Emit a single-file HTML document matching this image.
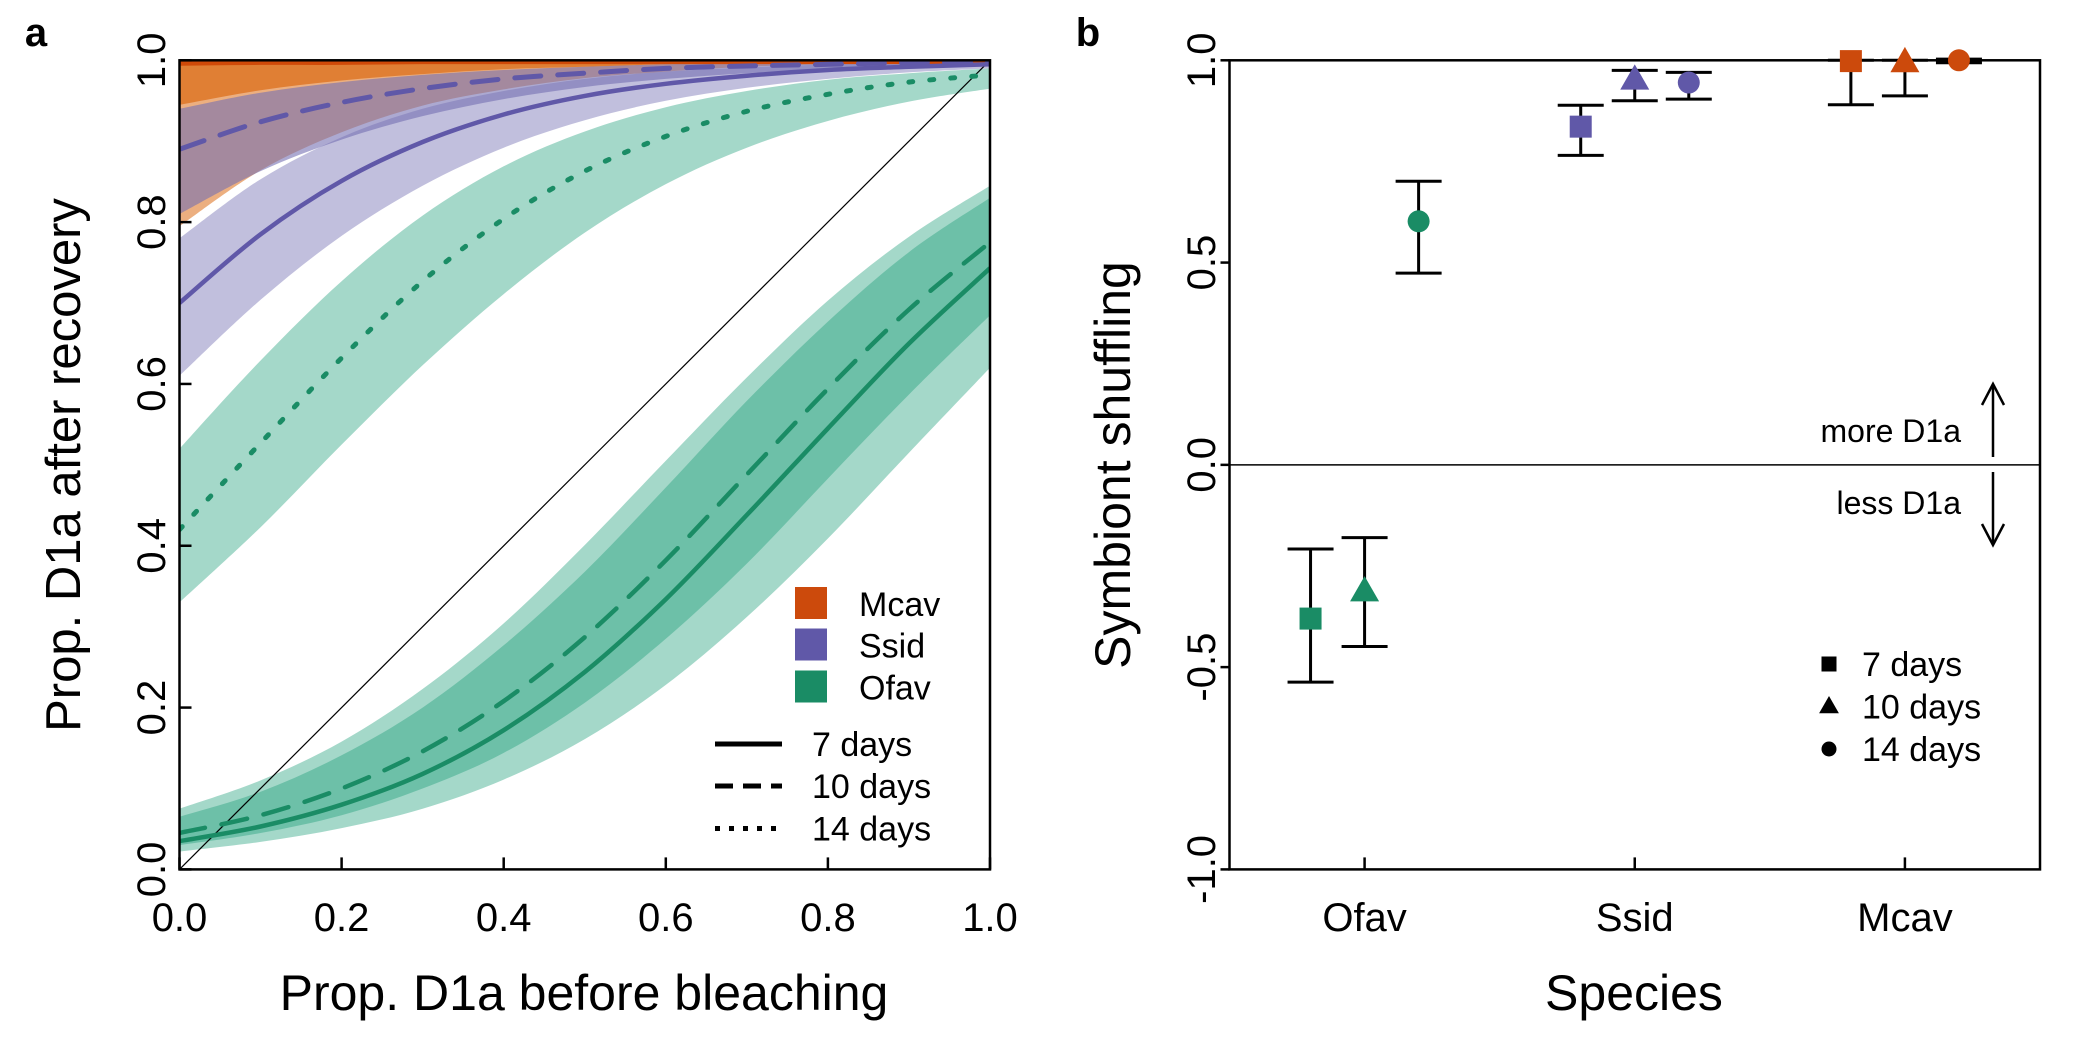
<!DOCTYPE html>
<html><head><meta charset="utf-8"><style>
html,body{margin:0;padding:0;background:#fff;}
svg{display:block;font-family:"Liberation Sans",Arial,sans-serif;}
</style></head><body>
<svg id="fig" width="2100" height="1050" viewBox="0 0 2100 1050" xmlns="http://www.w3.org/2000/svg">
<g id="pa"></g>
<g id="pb"></g>
</svg>
<script>
// ---------- Panel a data ----------
const xGrid = [0,0.1,0.2,0.3,0.4,0.5,0.6,0.7,0.8,0.9,1.0];
const ofav7 = [0.035,0.053,0.080,0.118,0.172,0.244,0.334,0.438,0.545,0.650,0.743];
const ofav7Lo = [0.022,0.034,0.051,0.075,0.111,0.161,0.228,0.312,0.409,0.515,0.620];
const ofav7Hi = [0.065,0.096,0.141,0.200,0.277,0.368,0.472,0.579,0.677,0.763,0.830];
const ofav10 = [0.045,0.067,0.100,0.146,0.208,0.287,0.382,0.488,0.594,0.692,0.775];
const ofav10Lo = [0.030,0.045,0.067,0.100,0.144,0.206,0.285,0.378,0.483,0.587,0.685];
const ofav10Hi = [0.075,0.110,0.158,0.223,0.304,0.401,0.505,0.608,0.703,0.782,0.845];
const ofav14 = [0.420,0.527,0.632,0.727,0.804,0.863,0.906,0.937,0.958,0.973,0.982];
const ofav14Lo = [0.330,0.423,0.525,0.623,0.711,0.787,0.847,0.892,0.925,0.949,0.965];
const ofav14Hi = [0.520,0.629,0.727,0.808,0.869,0.912,0.942,0.962,0.976,0.984,0.990];
const ssid7 = [0.700,0.785,0.851,0.899,0.933,0.956,0.971,0.981,0.988,0.992,0.995];
const ssid7Lo = [0.610,0.704,0.783,0.845,0.892,0.926,0.950,0.966,0.977,0.985,0.990];
const ssid7Hi = [0.780,0.853,0.905,0.940,0.962,0.977,0.986,0.991,0.995,0.997,0.998];
const ssid10 = [0.890,0.924,0.948,0.965,0.977,0.984,0.990,0.993,0.995,0.997,0.998];
const ssid10Lo = [0.810,0.863,0.902,0.931,0.952,0.967,0.977,0.984,0.989,0.993,0.995];
const ssid10Hi = [0.940,0.960,0.973,0.982,0.988,0.992,0.995,0.997,0.998,0.998,0.999];
const mcav7 = [0.997,0.998,0.998,0.999,0.999,0.999,0.999,0.999,0.999,0.999,0.999];
const mcav7Lo = [0.795,0.864,0.911,0.944,0.964,0.978,0.986,0.992,0.995,0.997,0.998];
const mcav10Lo = [0.945,0.963,0.975,0.983,0.989,0.992,0.995,0.997,0.998,0.998,0.999];
const mcavHi = [1,1,1,1,1,1,1,1,1,1,1];
const mcav10 = [1,1,1,1,1,1,1,1,1,1,1];
const aTicks = [0,0.2,0.4,0.6,0.8,1.0];
const aTickLabels = ["0.0","0.2","0.4","0.6","0.8","1.0"];

// ---------- Panel b data ----------
const species = ["Ofav","Ssid","Mcav"];
const days = ["7 days","10 days","14 days"];
const shufOfav = [-0.38,-0.313,0.602];
const shufOfavLo = [-0.537,-0.449,0.474];
const shufOfavHi = [-0.208,-0.180,0.701];
const shufSsid = [0.836,0.952,0.945];
const shufSsidLo = [0.765,0.900,0.904];
const shufSsidHi = [0.889,0.975,0.970];
const shufMcav = [0.998,0.995,1.0];
const shufMcavLo = [0.890,0.912,0.994];
const shufMcavHi = [1.0,1.0,1.003];
const bTicks = [-1,-0.5,0,0.5,1];
const bTickLabels = ["-1.0","-0.5","0.0","0.5","1.0"];

const NS="http://www.w3.org/2000/svg";
function mk(tag,attrs,parent){const e=document.createElementNS(NS,tag);for(const k in attrs)e.setAttribute(k,attrs[k]);parent.appendChild(e);return e;}
const COL={mcav:"#D04A08",ssid:"#6058A8",ofav:"#1A8C65"};
const BAND={mcav:"#D95F02",ssid:"#7570B3",ofav:"#1B9E77"};

const AL=179.5,AR=990,AT=60.3,AB=869.4;
const ax=v=>AL+v*(AR-AL), ay=v=>AB-v*(AB-AT);
function smooth(pts){
  let d="M"+pts[0][0].toFixed(1)+","+pts[0][1].toFixed(1);
  for(let i=0;i<pts.length-1;i++){
    const p0=pts[Math.max(i-1,0)],p1=pts[i],p2=pts[i+1],p3=pts[Math.min(i+2,pts.length-1)];
    const c1=[p1[0]+(p2[0]-p0[0])/6,p1[1]+(p2[1]-p0[1])/6];
    const c2=[p2[0]-(p3[0]-p1[0])/6,p2[1]-(p3[1]-p1[1])/6];
    d+=" C"+c1[0].toFixed(1)+","+c1[1].toFixed(1)+" "+c2[0].toFixed(1)+","+c2[1].toFixed(1)+" "+p2[0].toFixed(1)+","+p2[1].toFixed(1);
  }
  return d;
}
function pts(arr){return xGrid.map((x,i)=>[ax(x),ay(arr[i])]);}
const pa=document.getElementById('pa');
const clip=mk('clipPath',{id:'clipA'},mk('defs',{},pa));
mk('rect',{x:AL,y:AT,width:AR-AL,height:AB-AT},clip);
const plotA=mk('g',{'clip-path':'url(#clipA)'},pa);
function band(lo,hi,col,op,name){
  const up=smooth(pts(hi));
  const lw=smooth(pts(lo).reverse()).replace(/^M/,"L");
  const p=mk('path',{d:up+" "+lw+" Z",fill:col,'fill-opacity':op},plotA);
  
  
}
function line(arr,col,w,dash,name){
  const p=mk('path',{d:smooth(pts(arr)),fill:'none',stroke:col,'stroke-width':w,'stroke-dasharray':dash||'none','stroke-linecap':dash?'round':'butt'},plotA);
  
  
}
band(mcav7Lo,mcavHi,BAND.mcav,0.5,'mcav-7d-band');
band(mcav10Lo,mcavHi,BAND.mcav,0.6,'mcav-10d-band');
band(ssid7Lo,ssid7Hi,BAND.ssid,0.45,'ssid-7d-band');
band(ssid10Lo,ssid10Hi,BAND.ssid,0.6,'ssid-10d-band');
band(ofav14Lo,ofav14Hi,BAND.ofav,0.4,'ofav-14d-band');
band(ofav7Lo,ofav7Hi,BAND.ofav,0.4,'ofav-7d-band');
band(ofav10Lo,ofav10Hi,BAND.ofav,0.4,'ofav-10d-band');
const diag=mk('line',{x1:ax(0),y1:ay(0),x2:ax(1),y2:ay(1),stroke:'#000','stroke-width':1.2},plotA);


line(mcav10,'#222',3,'14 10','mcav-14d-line');
line(mcav7,COL.mcav,6,null,'mcav-7d-line');
line(ssid7,COL.ssid,4.5,null,'ssid-7d-line');
line(ssid10,COL.ssid,5,'26 17','ssid-10d-line');
line(ofav7,COL.ofav,4.5,null,'ofav-7d-line');
line(ofav10,COL.ofav,4.5,'26 17','ofav-10d-line');
line(ofav14,COL.ofav,5,'4 17','ofav-14d-line');

function frame(g,l,t,r,b,name){const f=mk('rect',{x:l,y:t,width:r-l,height:b-t,fill:'none',stroke:'#000','stroke-width':2.5},g);}
frame(pa,AL,AT,AR,AB,'panel-a-frame');
function txt(g,x,y,s,size,anchor,rot,name,weight){
  const t=mk('text',{x:x,y:y,'font-size':size,'text-anchor':anchor||'middle',fill:'#000'},g);
  if(rot)t.setAttribute('transform','rotate('+rot+' '+x+' '+y+')');
  if(weight)t.setAttribute('font-weight',weight);
  t.textContent=s;
  
  
  return t;
}
aTicks.forEach((v,i)=>{
  mk('line',{x1:ax(v),x2:ax(v),y1:AB,y2:AB-12,stroke:'#000','stroke-width':2.5},pa);
  mk('line',{x1:AL,x2:AL+12,y1:ay(v),y2:ay(v),stroke:'#000','stroke-width':2.5},pa);
  txt(pa,ax(v),931,aTickLabels[i],40,'middle',0,'x-tick-label');
  txt(pa,165,ay(v),aTickLabels[i],40,'middle',-90,'y-tick-label');
});
txt(pa,584,1010,'Prop. D1a before bleaching',50,'middle',0,'x-axis-title');
txt(pa,80,465,'Prop. D1a after recovery',49,'middle',-90,'y-axis-title');
txt(pa,36,46,'a',40,'middle',0,'panel-label-a','bold');
[['Mcav',BAND.mcav,'#cc4a0c'],['Ssid',COL.ssid],['Ofav',COL.ofav]].forEach((s,i)=>{
  const y=[603,644.5,686.5][i];
  const r=mk('rect',{x:795,y:y-16,width:32,height:32,fill:s[2]||s[1]},pa);
  
  
  txt(pa,859,y+13,s[0],34,'start',0,'legend-label');
});
[['7 days',null],['10 days','18 10'],['14 days','5 9']].forEach((s,i)=>{
  const y=[744,786,828.5][i];
  const l=mk('line',{x1:715,x2:782,y1:y,y2:y,stroke:'#000','stroke-width':5,'stroke-dasharray':s[1]||'none'},pa);
  
  
  txt(pa,812,y+12,s[0],34,'start',0,'legend-label');
});

// ---------- Panel b ----------
const BL=1229.5,BR=2040,BT=60.3,BB=869.4;
const bx=c=>BL+(c-0.5)*(BR-BL)/3, by=v=>(BT+BB)/2-v*(BB-BT)/2;
const pb=document.getElementById('pb');
const z=mk('line',{x1:BL,x2:BR,y1:by(0),y2:by(0),stroke:'#000','stroke-width':1.5},pb);


frame(pb,BL,BT,BR,BB,'panel-b-frame');
bTicks.forEach((v,i)=>{
  mk('line',{x1:BL-9,x2:BL,y1:by(v),y2:by(v),stroke:'#000','stroke-width':2.5},pb);
  txt(pb,1215,by(v),bTickLabels[i],40,'middle',-90,'y-tick-label');
});
species.forEach((s,i)=>{
  mk('line',{x1:bx(i+1),x2:bx(i+1),y1:BB,y2:BB-12,stroke:'#000','stroke-width':2.5},pb);
  txt(pb,bx(i+1),931,s,40,'middle',0,'x-tick-label');
});
txt(pb,1634,1010,'Species',50,'middle',0,'x-axis-title');
txt(pb,1130,465,'Symbiont shuffling',50,'middle',-90,'y-axis-title');
txt(pb,1088,46,'b',40,'middle',0,'panel-label-b','bold');
function marker(g,shape,x,y,col,s){
  let m;
  if(shape===0)m=mk('rect',{x:x-s/2,y:y-s/2,width:s,height:s,fill:col},g);
  else if(shape===1)m=mk('polygon',{points:(x-s*0.66)+','+(y+s*0.45)+' '+(x+s*0.66)+','+(y+s*0.45)+' '+x+','+(y-s*0.7),fill:col},g);
  else m=mk('circle',{cx:x,cy:y,r:s/2,fill:col},g);
  return m;
}
const bSets=[[shufOfav,shufOfavLo,shufOfavHi,COL.ofav],[shufSsid,shufSsidLo,shufSsidHi,COL.ssid],[shufMcav,shufMcavLo,shufMcavHi,'#cc4a0c']];
bSets.forEach((set,si)=>{
  set[0].forEach((v,di)=>{
    const x=bx(si+1+(di-1)*0.2);
    const g=mk('g',{},pb);
    
    
    const lo=by(set[1][di]),hi=by(set[2][di]);
    mk('line',{x1:x,x2:x,y1:lo,y2:hi,stroke:'#000','stroke-width':3},g);
    mk('line',{x1:x-23,x2:x+23,y1:lo,y2:lo,stroke:'#000','stroke-width':3},g);
    mk('line',{x1:x-23,x2:x+23,y1:hi,y2:hi,stroke:'#000','stroke-width':3},g);
    marker(g,di,x,by(v),set[3],22);
  });
});
const ar=mk('g',{fill:'none',stroke:'#000','stroke-width':2.5},pb);


mk('line',{x1:1993,x2:1993,y1:457,y2:384},ar);
mk('polyline',{points:'1982,405 1993,384 2004,405'},ar);
mk('line',{x1:1993,x2:1993,y1:472,y2:545},ar);
mk('polyline',{points:'1982,524 1993,545 2004,524'},ar);
txt(pb,1961,442,'more D1a',32,'end',0,'more-d1a-label');
txt(pb,1961,514,'less D1a',32,'end',0,'less-d1a-label');
days.forEach((d,i)=>{
  const y=[664,706.5,749][i];
  const m=marker(pb,i,1829,y,'#000',15);
  
  
  txt(pb,1862,y+12,d,34,'start',0,'legend-label');
});
</script>
</body></html>
